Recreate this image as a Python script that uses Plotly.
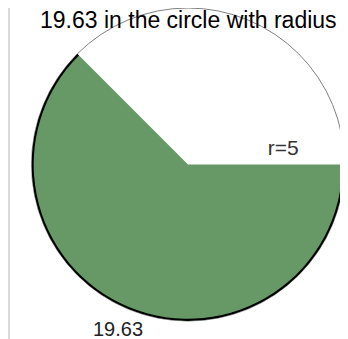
import plotly.graph_objects as go

# Kreis und Sektor
radius = 5
sector_start = 135      # Grad, gegen den Uhrzeigersinn ab 3 Uhr
sector_end = 360
sector_label = "19.63"
radius_label = "r=5"
title_text = "19.63 in the circle with radius"

GREEN = "#669966"

width = sector_end - sector_start
center = sector_start + width / 2

W, H = 340, 331

fig = go.Figure()

# gefuellter Sektor
fig.add_trace(go.Barpolar(
    r=[radius], theta=[center], width=[width], base=[0],
    marker=dict(color=GREEN, line=dict(width=0)),
    hoverinfo="skip", showlegend=False,
))
# schwarzer Bogen am Rand des Sektors
fig.add_trace(go.Barpolar(
    r=[radius * 0.014], theta=[center], width=[width], base=[radius * 0.986],
    marker=dict(color="black", line=dict(width=0)),
    hoverinfo="skip", showlegend=False,
))
# Beschriftung Radius
fig.add_trace(go.Scatterpolar(
    r=[radius * 0.616], theta=[8.65],
    mode="text", text=[radius_label],
    textfont=dict(size=21, color="#333333", family="Liberation Sans, Arial"),
    cliponaxis=False, hoverinfo="skip", showlegend=False,
))

fig.update_layout(
    width=W, height=H,
    margin=dict(l=0, r=0, t=0, b=0),
    paper_bgcolor="white",
    font=dict(family="Liberation Sans, Arial", color="black"),
    polar=dict(
        domain=dict(x=[23.5 / W, 336.5 / W], y=[(H - 313) / H, 1.0]),
        bgcolor="white",
        radialaxis=dict(range=[0, radius], visible=False),
        angularaxis=dict(rotation=0, direction="counterclockwise",
                         showgrid=False, showticklabels=False, ticks="",
                         showline=True, linecolor="#808080", linewidth=1,
                         layer="below traces"),
    ),
    annotations=[
        dict(text=title_text, xref="paper", yref="paper",
             x=180.5 / W, xanchor="center", y=1, yanchor="top", yshift=3,
             showarrow=False, font=dict(size=23, color="black")),
        dict(text=sector_label, xref="paper", yref="paper",
             x=109.5 / W, xanchor="center", y=0, yanchor="bottom", yshift=-3,
             showarrow=False, font=dict(size=20, color="#222222")),
    ],
    shapes=[dict(type="line", xref="paper", yref="paper",
                 x0=0.003, x1=0.003, y0=0.0, y1=1,
                 line=dict(color="#d9d9d9", width=2))],
)

fig.write_html("out.html")
